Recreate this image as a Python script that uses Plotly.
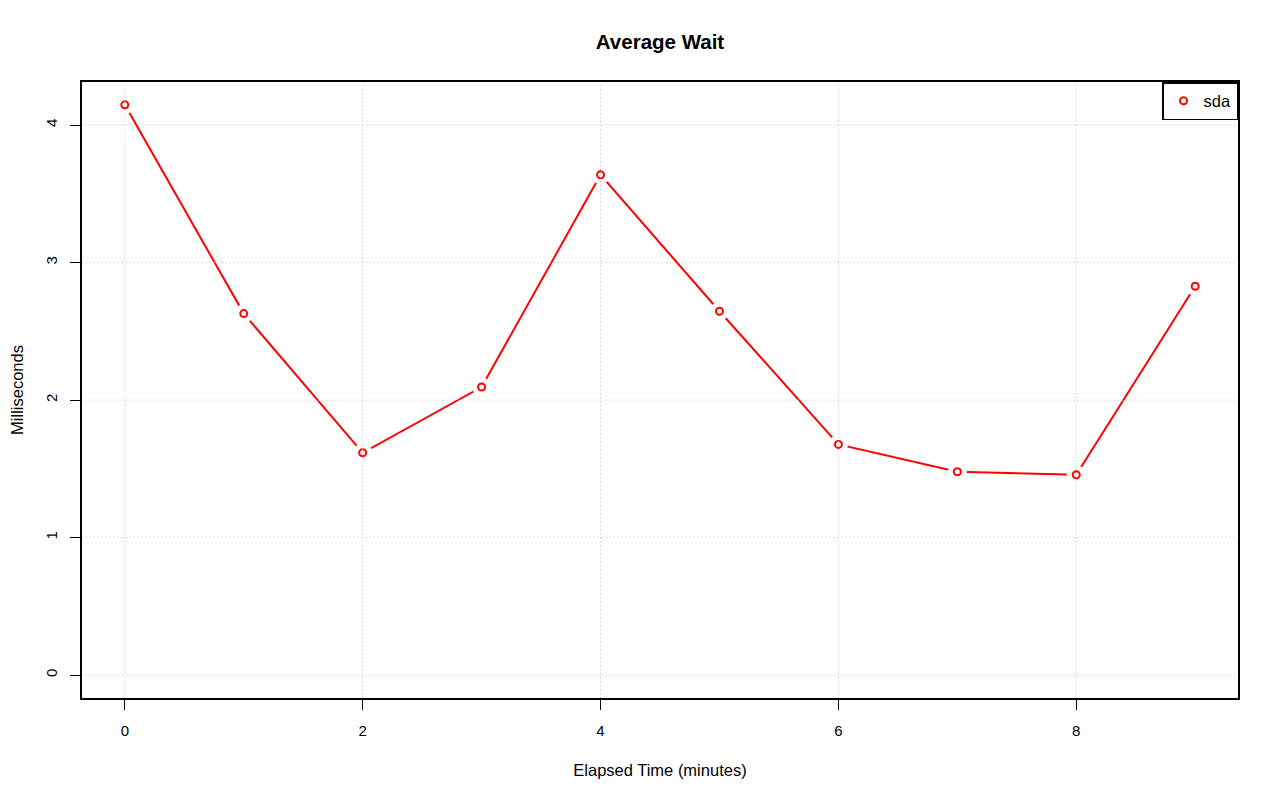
import plotly.graph_objects as go

minutes = [0, 1, 2, 3, 4, 5, 6, 7, 8, 9]
wait_ms = [4.147, 2.629, 1.617, 2.095, 3.638, 2.646, 1.678, 1.479, 1.457, 2.828]
series_name = "sda"
x_ticks = [0, 2, 4, 6, 8]
y_ticks = [0, 1, 2, 3, 4]

FONT = "Liberation Sans, Arial, Helvetica, sans-serif"
RED = "#FF0000"
GRID = "#BEBEBE"

ymin, ymax = 0, max(wait_ms)
ypad = (ymax - ymin) * 0.04
xpad = (max(minutes) - min(minutes)) * 0.04

fig = go.Figure()
# connecting line
fig.add_trace(go.Scatter(x=minutes, y=wait_ms, mode="lines",
                         line=dict(color=RED, width=2), showlegend=False,
                         hoverinfo="skip"))
# white discs producing R "type='b'" gaps
fig.add_trace(go.Scatter(x=minutes, y=wait_ms, mode="markers",
                         marker=dict(color="white", size=19, line=dict(width=0)),
                         showlegend=False, hoverinfo="skip"))
# open circles
fig.add_trace(go.Scatter(x=minutes, y=wait_ms, mode="markers", name=series_name,
                         marker=dict(symbol="circle-open", color=RED, size=7,
                                     line=dict(color=RED, width=2))))

# dotted grid drawn above the gap discs
for xv in x_ticks:
    fig.add_shape(type="line", xref="x", yref="paper", x0=xv, x1=xv, y0=0, y1=1,
                  line=dict(color=GRID, width=1, dash="1px,3px"), layer="above")
for yv in y_ticks:
    fig.add_shape(type="line", xref="paper", yref="y", x0=0, x1=1, y0=yv, y1=yv,
                  line=dict(color=GRID, width=1, dash="1px,3px"), layer="above")

# page body has an 8px margin: size/margins compensate so the plot lands where it should
fig.update_layout(
    width=1264, height=785,
    margin=dict(l=74, r=34, t=74, b=95),
    paper_bgcolor="white", plot_bgcolor="white",
    font=dict(family=FONT, size=14.5, color="black"),
    title=dict(text="<b>Average Wait</b>", x=(660 - 8) / 1264, xanchor="center",
               y=1 - 34 / 785, yanchor="middle",
               font=dict(family=FONT, size=20.5, color="black")),
    xaxis=dict(range=[min(minutes) - xpad, max(minutes) + xpad],
               tickvals=x_ticks, ticks="outside", ticklen=10, tickwidth=1,
               tickcolor="black", showgrid=False, zeroline=False,
               showline=True, linecolor="black", linewidth=1.5, mirror=True,
               tickfont=dict(size=15), ticklabelstandoff=8, automargin=False,
               title=dict(text="Elapsed Time (minutes)", font=dict(size=16.5),
                          standoff=27)),
    yaxis=dict(range=[ymin - ypad, ymax + ypad],
               tickvals=y_ticks, ticks="outside", ticklen=10, tickwidth=1,
               tickcolor="black", showgrid=False, zeroline=False,
               showline=True, linecolor="black", linewidth=1.5, mirror=True,
               tickangle=-90, tickfont=dict(size=15), ticklabelstandoff=7,
               automargin=False,
               title=dict(text="Milliseconds", font=dict(size=16.5), standoff=27)),
    legend=dict(x=1, xanchor="right", y=1, yanchor="top",
                bgcolor="white", bordercolor="black", borderwidth=1.5,
                font=dict(size=16.5), itemwidth=30),
    showlegend=True,
)

fig.write_html("out.html")
